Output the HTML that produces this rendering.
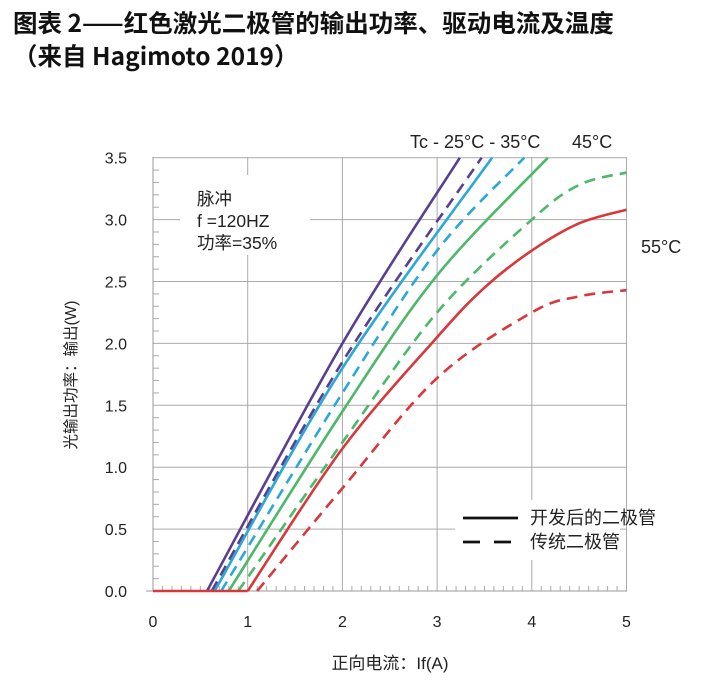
<!DOCTYPE html>
<html><head><meta charset="utf-8"><style>
body{margin:0;background:#fff;width:707px;height:688px;overflow:hidden;font-family:"Liberation Sans","Noto Sans CJK SC",sans-serif;}
.t{position:absolute;left:13px;font-weight:bold;font-size:24.5px;color:#111;font-family:"Noto Sans CJK SC","Liberation Sans",sans-serif;letter-spacing:0px;white-space:nowrap}
</style></head><body>
<div class="t" style="top:5px">图表 2——红色激光二极管的输出功率、驱动电流及温度</div>
<div class="t" style="top:38px">（来自 Hagimoto 2019）</div>
<svg id="s" width="707" height="688" style="position:absolute;left:0;top:0" font-family="Liberation Sans, Noto Sans CJK SC, sans-serif" fill="#222">
</svg>
<script>
var s=document.getElementById('s'),h='';
function X(x){return 153+94.7*x}function Y(y){return 591-123.8*y}
for(var i=1;i<=7;i++){h+='<line x1="153" x2="627" y1="'+Y(i*0.5)+'" y2="'+Y(i*0.5)+'" stroke="#aaa" stroke-width="1"/>';}
for(var i=1;i<=5;i++){h+='<line y1="157" y2="591" x1="'+X(i)+'" x2="'+X(i)+'" stroke="#aaa" stroke-width="1"/>';}
h+='<line x1="153" x2="153" y1="157" y2="591" stroke="#999"/>';
h+='<line x1="146" x2="627" y1="591" y2="591" stroke="#999"/>';
for(var i=1;i<35;i++){if(i%5)h+='<line x1="153" x2="159" y1="'+Y(i*0.1)+'" y2="'+Y(i*0.1)+'" stroke="#aaa"/>';}
for(var i=1;i<50;i++){if(i%10)h+='<line y1="591" y2="586" x1="'+X(i*0.1)+'" x2="'+X(i*0.1)+'" stroke="#aaa"/>';}
h+='<rect x="180" y="175" width="130" height="80" fill="#fff"/>';
h+='<rect x="455" y="500" width="165" height="60" fill="#fff"/>';
function path(p,c,d){var q=p.map(function(a){return[X(a[0]),Y(a[1])]});var str='M'+q[0][0]+','+q[0][1];
for(var i=0;i<q.length-1;i++){var p0=q[i-1]||q[i],p1=q[i],p2=q[i+1],p3=q[i+2]||p2;
str+=' C'+(p1[0]+(p2[0]-p0[0])/6)+','+(p1[1]+(p2[1]-p0[1])/6)+' '+(p2[0]-(p3[0]-p1[0])/6)+','+(p2[1]-(p3[1]-p1[1])/6)+' '+p2[0]+','+p2[1];}
h+='<path d="'+str+'" fill="none" stroke="'+c+'" stroke-width="2.6" '+(d?'stroke-dasharray="11,7"':'')+'/>';}
var P='#5b3f8f',B='#2aa8d8',G='#4cb86a',R='#d8383c';
path([[0.57,0],[2,2.0],[3.24,3.5]],P);
path([[0.62,0],[2,1.85],[3.47,3.5]],P,1);
path([[0.65,0],[2,1.8],[3.58,3.5]],B);
path([[0.72,0],[2,1.6],[3,2.75],[3.92,3.5]],B,1);
path([[0.8,0],[2,1.45],[3,2.55],[4.17,3.5]],G);
path([[0.9,0],[2,1.2],[3,2.25],[4,3.0],[4.5,3.28],[5,3.38]],G,1);
path([[1.1,0],[2,0.83],[3,1.72],[4,2.25],[4.5,2.38],[5,2.43]],R,1);
h+='<line x1="153" x2="'+X(1)+'" y1="591" y2="591" stroke="'+R+'" stroke-width="2.6"/>';
path([[1,0],[2,1.15],[3,2.05],[3.5,2.45],[4,2.75],[4.5,2.97],[5,3.08]],R);
for(var i=0;i<=7;i++){h+='<text x="127" y="'+(Y(i*0.5)+6)+'" font-size="16" text-anchor="end">'+(i*0.5).toFixed(1)+'</text>';}
for(var i=0;i<=5;i++){h+='<text x="'+X(i)+'" y="627" font-size="16" text-anchor="middle">'+i+'</text>';}
h+='<text x="197" y="205" font-size="17.5">脉冲</text><text x="197" y="227" font-size="17.5">f =120HZ</text><text x="197" y="249" font-size="17.5">功率=35%</text>';
h+='<text x="410" y="148" font-size="18">Tc - 25°C - 35°C</text><text x="572" y="148" font-size="18">45°C</text><text x="641" y="253" font-size="18">55°C</text>';
h+='<line x1="463" x2="518" y1="518" y2="518" stroke="#111" stroke-width="2.8"/><line x1="463" x2="518" y1="542" y2="542" stroke="#111" stroke-width="2.8" stroke-dasharray="17,14"/>';
h+='<text x="530" y="524" font-size="18">开发后的二极管</text><text x="530" y="548" font-size="18">传统二极管</text>';
h+='<text x="390" y="669" font-size="17" text-anchor="middle">正向电流：If(A)</text>';
h+='<text transform="translate(76,375) rotate(-90)" font-size="15.5" text-anchor="middle">光输出功率：输出(W)</text>';
s.innerHTML=h;
</script>
</body></html>
